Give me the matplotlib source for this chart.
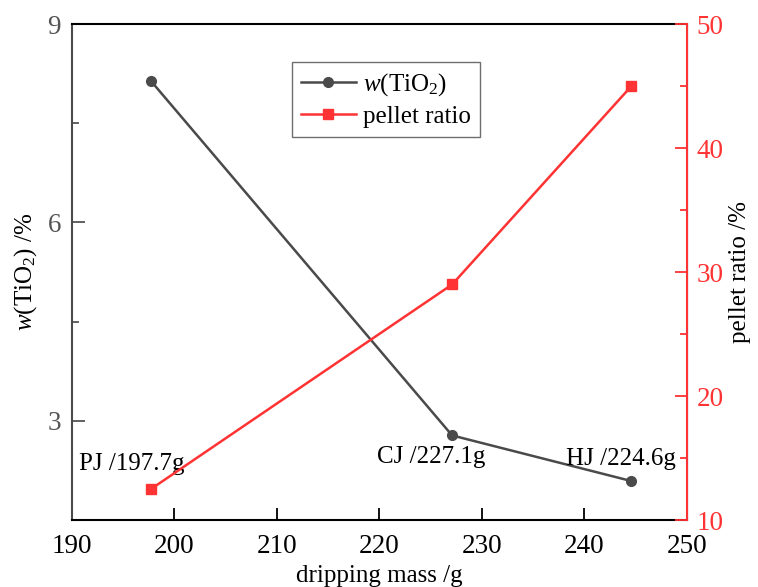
import numpy as np
import matplotlib.pyplot as plt
from matplotlib.ticker import MultipleLocator

plt.rcParams['font.family'] = ['Liberation Serif', 'DejaVu Serif']
plt.rcParams['mathtext.fontset'] = 'custom'
plt.rcParams['mathtext.rm'] = 'Liberation Serif'
plt.rcParams['mathtext.it'] = 'Liberation Serif:italic'

# data
mass = [197.7, 227.1, 244.6]
w_tio2 = [8.14, 2.78, 2.09]
pellet_ratio = [12.5, 29.0, 45.0]
labels = ["PJ /197.7g", "CJ /227.1g", "HJ /224.6g"]
label_x = [195.85, 225.1, 243.6]
label_y = [2.25, 2.36, 2.33]

grey = "#4a4a4a"
tick_grey = "#555555"
red = "#ff3333"

fig = plt.figure(figsize=(7.58, 5.87), dpi=100)
ax = fig.add_axes([0.095, 0.114, 0.811, 0.845])
ax2 = ax.twinx()

l1, = ax.plot(mass, w_tio2, color=grey, marker="o", markersize=7, linewidth=1.8,
              label=r"$w$(TiO$_2$)")
l2, = ax2.plot(mass, pellet_ratio, color=red, marker="s", markersize=7, linewidth=1.8,
               label="pellet ratio")

ax.set_xlim(190, 250)
ax.set_ylim(1.5, 9)
ax2.set_ylim(10, 50)
ax.xaxis.set_major_locator(MultipleLocator(10))
ax.yaxis.set_major_locator(MultipleLocator(3))
ax.yaxis.set_minor_locator(MultipleLocator(1.5))
ax2.yaxis.set_major_locator(MultipleLocator(10))
ax2.yaxis.set_minor_locator(MultipleLocator(5))

ax.tick_params(axis="x", which="major", direction="in", length=9, width=1.3,
               labelsize=19.5, pad=10, top=False)
ax.tick_params(axis="y", which="major", direction="in", length=9, width=1.3,
               labelsize=19.5, pad=8, colors=tick_grey)
ax.tick_params(axis="y", which="minor", direction="in", length=5, width=1.3, colors=tick_grey)
ax2.tick_params(axis="y", which="major", direction="in", length=9, width=1.3,
                labelsize=19.5, pad=7, colors=red)
ax2.tick_params(axis="y", which="minor", direction="in", length=5, width=1.3, colors=red)

for s in ["left", "bottom", "top"]:
    ax.spines[s].set_linewidth(1.5)
ax.spines["left"].set_color(grey)
ax2.spines["right"].set_color(red)
ax2.spines["right"].set_linewidth(1.5)
for s in ["left", "bottom", "top"]:
    ax2.spines[s].set_visible(False)

ax.set_xlabel("dripping mass /g", fontsize=18, labelpad=4)
ax.set_ylabel(r"$w$(TiO$_2$) /%", fontsize=18, labelpad=6)
ax2.set_ylabel("pellet ratio /%", fontsize=18, color="black", labelpad=4)

# point labels
for tx, ty, t in zip(label_x, label_y, labels):
    ax.text(tx, ty, t, fontsize=18, ha="center", va="baseline")

leg = ax.legend(handles=[l1, l2], loc="upper left", bbox_to_anchor=(0.358, 0.923),
                fontsize=18, frameon=True, fancybox=False, edgecolor=grey,
                handlelength=2.2, borderpad=0.35, labelspacing=0.3, handletextpad=0.3,
                borderaxespad=0)
leg.get_frame().set_linewidth(1.0)

fig.savefig("out.png", dpi=100)
